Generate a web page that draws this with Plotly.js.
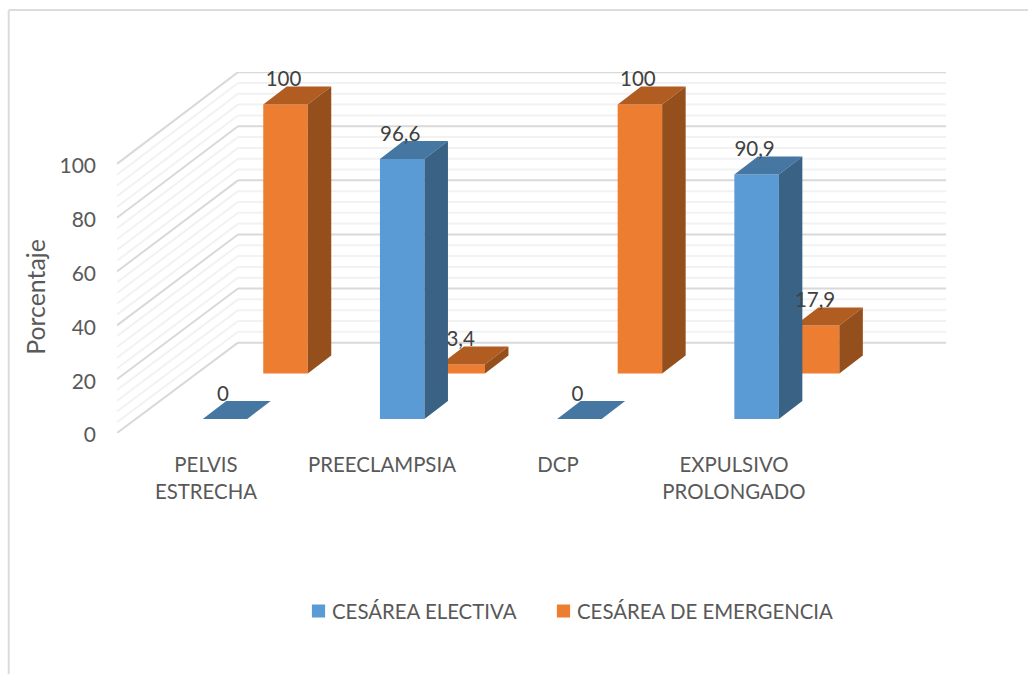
<!DOCTYPE html>
<html>
<head>
<meta charset="utf-8">
<script src="https://cdn.plot.ly/plotly-3.0.1.min.js"></script>
<style>html,body{margin:0;padding:0;background:#fff}#chart{width:1028px;height:675px}</style>
</head>
<body>
<div id="chart"></div>
<script>
var categories = ['PELVIS<br>ESTRECHA', 'PREECLAMPSIA', 'DCP', 'EXPULSIVO<br>PROLONGADO'];
var electiva = [0, 96.6, 0, 90.9];
var emergencia = [100, 3.4, 100, 17.9];
var yTicks = [0, 20, 40, 60, 80, 100];
var gridValues = [0,4,8,12,16,20,24,28,32,36,40,44,48,52,56,60,64,68,72,76,80,84,88,92,96,100];
var nameA = 'CESÁREA ELECTIVA', nameB = 'CESÁREA DE EMERGENCIA';

var FONT = 'Lato, Carlito, sans-serif';
var W = 1028, H = 675, L = 117, R = 946, T = 72, B = 433.5;
var xPerPx = 1 / 176, yPerPx = 1 / 2.695;
var xMin = (L - 206) * xPerPx, xMax = (R - 206) * xPerPx, yMax = (B - T) * yPerPx;
var step = 177.2 * xPerPx, barW = 44.5 * xPerPx;
var dx = 23.5 * xPerPx, dy = 18 * yPerPx;
var wallX = (238 - 206) * xPerPx, wallY = (B - 343) * yPerPx, wallK = 1.005;
var idx = categories.map(function (_, i) { return i; });

function centres(off) { return idx.map(function (i) { return off + i * step; }); }
var xA = centres(19 * xPerPx), xB = centres(79.5 * xPerPx);
var baseA = (B - 419.5) * yPerPx, baseB = (B - 374) * yPerPx;

function faces(xs, vals, base, kind) {
  var X = [], Y = [];
  xs.forEach(function (c, i) {
    var l = c - barW / 2, r = c + barW / 2, top = base + vals[i];
    if (kind === 'top') {
      X.push(l, r, r + dx, l + dx, l, null);
      Y.push(top, top, top + dy, top + dy, top, null);
    } else {
      X.push(r, r + dx, r + dx, r, r, null);
      Y.push(base, base + dy, top + dy, top, base, null);
    }
  });
  return {x: X, y: Y};
}
function polyTrace(p, color) {
  return {x: p.x, y: p.y, type: 'scatter', mode: 'lines', fill: 'toself', fillcolor: color,
    line: {width: 0, color: color}, hoverinfo: 'skip', showlegend: false};
}
function labelTrace(xs, vals, base) {
  return {x: xs.map(function (c) { return c - 2 * xPerPx; }),
    y: vals.map(function (v) { return base + v + 23.5 * yPerPx; }),
    text: vals.map(function (v) { return String(v).replace('.', ','); }),
    type: 'scatter', mode: 'text', textposition: 'middle center',
    textfont: {family: FONT, size: 20.5, color: '#404040'}, hoverinfo: 'skip', showlegend: false, cliponaxis: false};
}

var shapes = [];
gridValues.forEach(function (v) {
  var major = v % 20 === 0;
  var col = major ? '#d9d9d9' : '#f2f2f2';
  var yb = wallY + v * wallK;
  shapes.push({type: 'line', xref: 'x', yref: 'y', layer: 'below', x0: xMin, y0: v, x1: wallX, y1: yb, line: {color: col, width: 2}});
  shapes.push({type: 'line', xref: 'x', yref: 'y', layer: 'below', x0: wallX, y0: yb, x1: xMax, y1: yb, line: {color: col, width: 2}});
});
var pw = R - L, ph = B - T;
shapes.push({type: 'line', xref: 'paper', yref: 'paper', x0: (8.7 - L) / pw, x1: (W - L) / pw, y0: (B - 10) / ph, y1: (B - 10) / ph, line: {color: '#dcdcdc', width: 2}});
shapes.push({type: 'line', xref: 'paper', yref: 'paper', x0: (8.7 - L) / pw, x1: (8.7 - L) / pw, y0: (B - 10) / ph, y1: (B - H) / ph, line: {color: '#dcdcdc', width: 2}});

var traces = [
  {name: nameA, type: 'bar', x: xA, y: electiva, base: baseA, width: barW, marker: {color: '#5B9BD5', line: {width: 0}}, hoverinfo: 'skip', legend: 'legend'},
  {name: nameB, type: 'bar', x: xB, y: emergencia, base: baseB, width: barW, marker: {color: '#ED7D31', line: {width: 0}}, hoverinfo: 'skip', legend: 'legend2'},
  polyTrace(faces(xB, emergencia, baseB, 'top'), '#B15C20'),
  polyTrace(faces(xB, emergencia, baseB, 'side'), '#954F1C'),
  polyTrace(faces(xA, electiva, baseA, 'top'), '#4676A2'),
  polyTrace(faces(xA, electiva, baseA, 'side'), '#396285'),
  labelTrace(xB, emergencia, baseB),
  labelTrace(xA, electiva, baseA)
];

function legendAt(px) {
  return {orientation: 'h', xanchor: 'left', yanchor: 'middle', x: (px - L) / pw, y: (B - 612) / ph,
    font: {family: FONT, size: 20.4, color: '#595959'}, bgcolor: 'rgba(0,0,0,0)', itemclick: false, itemdoubleclick: false};
}

var layout = {
  width: W, height: H, paper_bgcolor: '#fff', plot_bgcolor: 'rgba(0,0,0,0)',
  margin: {l: L, r: W - R, t: T, b: H - B, pad: 0},
  barmode: 'overlay', shapes: shapes, showlegend: true, font: {family: FONT, color: '#595959', size: 20},
  xaxis: {range: [xMin, xMax], showgrid: false, zeroline: false, showline: false, tickmode: 'array',
    tickvals: idx, ticktext: categories, ticks: '', ticklabelstandoff: 18,
    tickfont: {family: FONT, size: 20.4, color: '#595959'}},
  yaxis: {range: [0, yMax], showgrid: false, zeroline: false, showline: false, tickmode: 'array',
    tickvals: yTicks, ticktext: yTicks.map(String), ticks: '', ticklabelstandoff: 20, ticklabelshift: 2,
    tickfont: {family: FONT, size: 21, color: '#595959'}},
  annotations: [{text: 'Porcentaje', xref: 'paper', yref: 'paper', x: (36 - L) / pw, y: (B - 298) / ph,
    xanchor: 'center', yanchor: 'middle', textangle: -90, showarrow: false,
    font: {family: FONT, size: 24.8, color: '#595959'}}],
  legend: legendAt(292),
  legend2: legendAt(537)
};
Plotly.newPlot('chart', traces, layout, {displayModeBar: false, staticPlot: true}).then(function (gd) {
  // Excel places the legend swatch closer to its text than Plotly does.
  gd.querySelectorAll('.legendpoints').forEach(function (g) {
    g.setAttribute('transform', 'translate(4.5,0) scale(1.1)');
  });
});
</script>
</body>
</html>
